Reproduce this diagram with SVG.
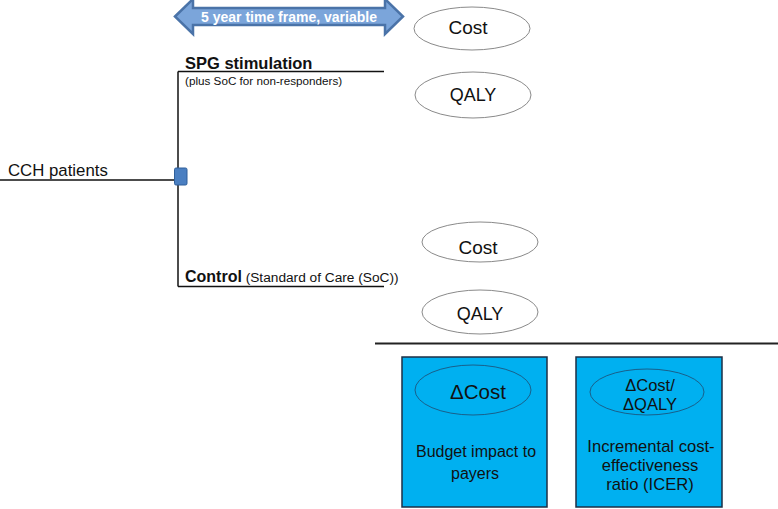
<svg xmlns="http://www.w3.org/2000/svg" width="778" height="509" viewBox="0 0 778 509">
<style>
text{font-family:"Liberation Sans",Arial,sans-serif;fill:#111}
.b{font-weight:bold}
.el{fill:#fff;stroke:#8a8a8a;stroke-width:1}
.ln{stroke:#111;stroke-width:1.5;fill:none}
.box{fill:#00b0f0;stroke:#1d2f45;stroke-width:1.5}
.bel{fill:none;stroke:#1f4a70;stroke-width:0.8}
.c{text-anchor:middle}
</style>
<rect width="778" height="509" fill="#fff"/>
<g id="connectors">
<line class="ln" x1="0" y1="180" x2="178" y2="180"/>
<line class="ln" x1="178" y1="71.5" x2="178" y2="286.5"/>
<line class="ln" x1="178" y1="71.5" x2="384" y2="71.5"/>
<line class="ln" x1="178" y1="286.5" x2="384" y2="286.5"/>
<line x1="375" y1="343.5" x2="778" y2="343.5" stroke="#222" stroke-width="2"/>
</g>
<g id="timeframe">
<path d="M175,16.5 L193,-1 L193,8 L385,8 L385,-1 L403,16.5 L385,34 L385,25 L193,25 L193,34 Z" fill="#7ba5da" stroke="#4a73a8" stroke-width="2.5" stroke-linejoin="miter"/>
<text x="289" y="22" class="b c" font-size="14" style="fill:#fff">5 year time frame, variable</text>
</g>
<g id="cch">
<text x="8" y="176" font-size="16.8">CCH patients</text>
</g>
<g id="decision">
<rect x="174.5" y="168" width="12.5" height="17" rx="1.5" fill="#4a7fc1" stroke="#2f5f9a" stroke-width="1"/>
</g>
<g id="spg">
<text x="185" y="69" class="b" font-size="16.5">SPG stimulation</text>
<text x="185" y="85" font-size="11.7">(plus SoC for non-responders)</text>
</g>
<g id="control">
<text x="185" y="282"><tspan class="b" font-size="16">Control</tspan><tspan font-size="13.7"> (Standard of Care (SoC))</tspan></text>
</g>
<g id="spg-cost">
<ellipse class="el" cx="472" cy="28.5" rx="58" ry="21.5"/>
<text x="468" y="34" class="c" font-size="19">Cost</text>
</g>
<g id="spg-qaly">
<ellipse class="el" cx="473" cy="95" rx="58" ry="23"/>
<text x="473" y="101" class="c" font-size="18">QALY</text>
</g>
<g id="ctrl-cost">
<ellipse class="el" cx="480" cy="242" rx="58" ry="20"/>
<text x="478" y="254" class="c" font-size="19">Cost</text>
</g>
<g id="ctrl-qaly">
<ellipse class="el" cx="480" cy="312" rx="58" ry="22"/>
<text x="480" y="320" class="c" font-size="18">QALY</text>
</g>
<g id="budget">
<rect class="box" x="402" y="357" width="145" height="150"/>
<ellipse class="bel" cx="473" cy="390" rx="58" ry="25"/>
<text x="478" y="399" class="c" font-size="20.5">ΔCost</text>
<text x="476" y="457" class="c" font-size="16">Budget impact to</text>
<text x="475" y="479" class="c" font-size="16">payers</text>
</g>
<g id="icer">
<rect class="box" x="576" y="357" width="146" height="150"/>
<ellipse class="bel" cx="647" cy="392" rx="57" ry="23"/>
<text x="650" y="391" class="c" font-size="16.5">ΔCost/</text>
<text x="650" y="409.5" class="c" font-size="16.5">ΔQALY</text>
<text x="651" y="452" class="c" font-size="16.6">Incremental cost-</text>
<text x="650" y="471" class="c" font-size="16.6">effectiveness</text>
<text x="650" y="490" class="c" font-size="16.6">ratio (ICER)</text>
</g>
</svg>
